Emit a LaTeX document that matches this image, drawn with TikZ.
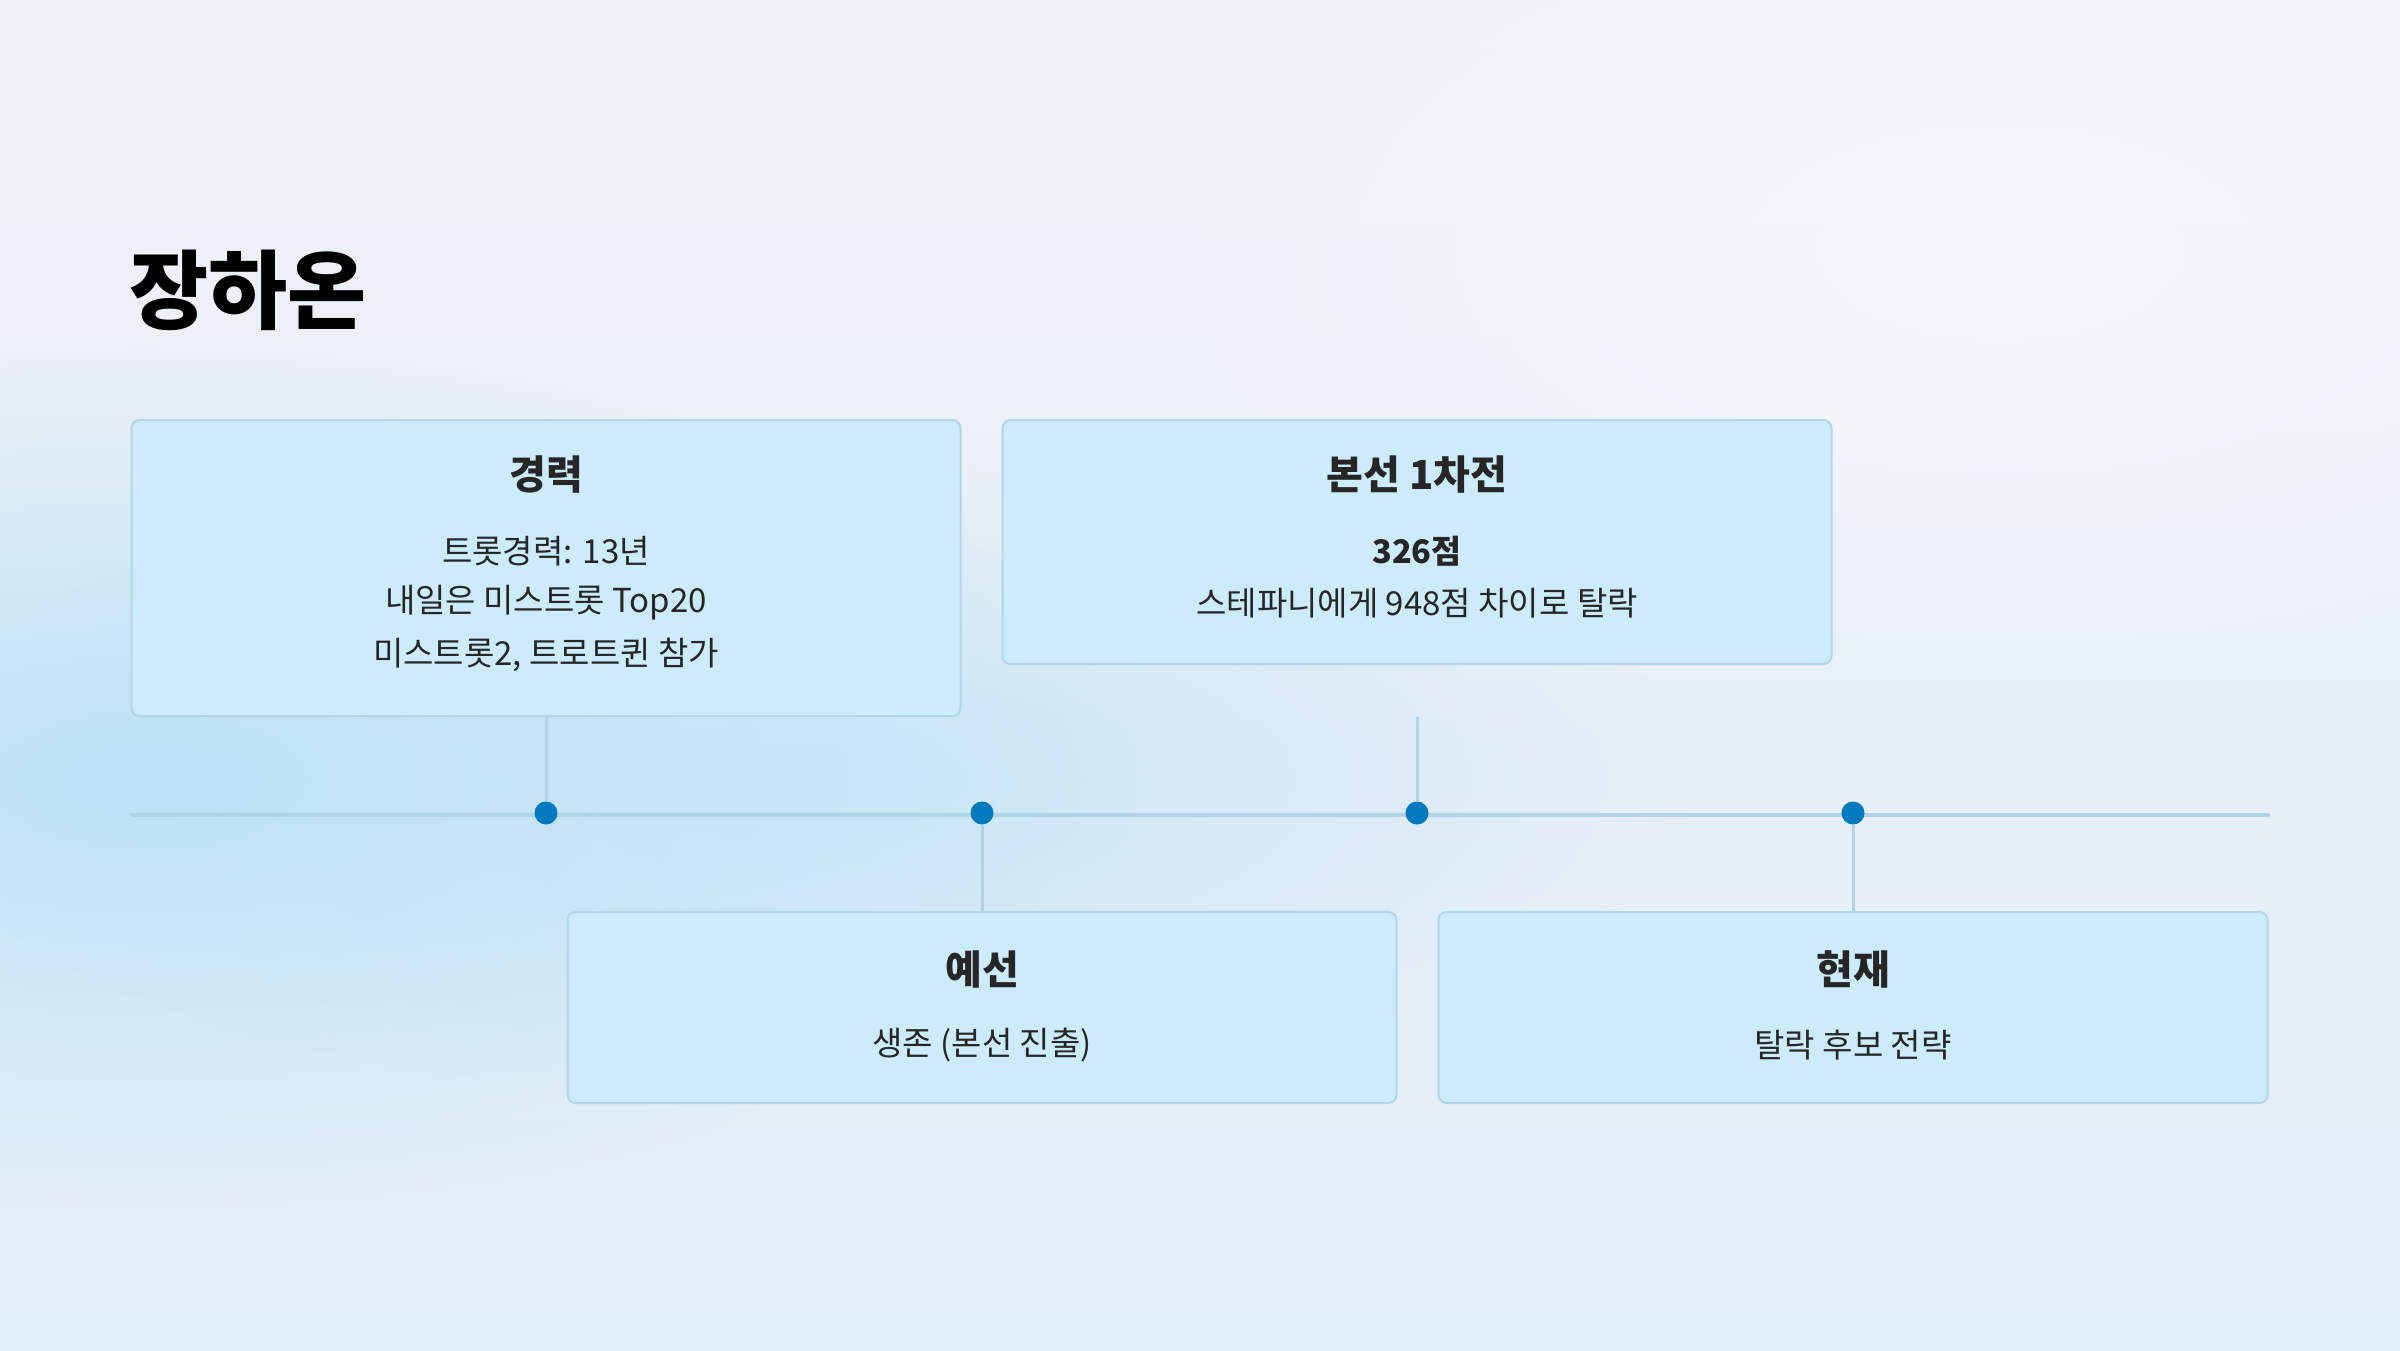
\documentclass[tikz,border=0pt]{standalone}
\usepackage{fontspec}
\setmainfont{Noto Sans CJK KR}
\usetikzlibrary{fadings}
\tikzfading[name=softblob, inner color=transparent!0, outer color=transparent!100]
\definecolor{boxfill}{HTML}{CCECFD}
\definecolor{boxline}{HTML}{B2D6E8}
\definecolor{tlcol}{HTML}{B0D3E6}
\definecolor{dotcol}{HTML}{0079BF}
\definecolor{txt}{HTML}{262626}
\definecolor{bgtop}{HTML}{F0F1F6}
\definecolor{bgbot}{HTML}{E2EEF9}
\definecolor{blob}{HTML}{BCE2F5}
\begin{document}
\begin{tikzpicture}[x=1pt,y=-1pt,
  card/.style={draw=boxline, line width=2pt, fill=boxfill, rounded corners=8pt,
    minimum width=829pt, anchor=north, inner sep=0pt},
  ttl/.style={text=txt, font=\fontsize{40}{48}\selectfont\bfseries, inner sep=0pt},
  bodytxt/.style={text=txt, font=\fontsize{33}{38}\selectfont, inner sep=0pt},
  boldtxt/.style={text=txt, font=\fontsize{32.5}{38}\selectfont\bfseries, inner sep=0pt},
  tline/.style={draw=tlcol, line width=4pt},
  conn/.style={draw=tlcol, line width=3pt},
  tdot/.style={circle, fill=dotcol, minimum size=23pt, inner sep=0pt}]
\useasboundingbox (0,0) rectangle (2400,1350);
\begin{scope}
\clip (0,0) rectangle (2400,1350);
\shade[top color=bgtop, bottom color=bgbot] (0,0) rectangle (2400,1350);
\fill[white, opacity=0.5, path fading=softblob] (2000,250) ellipse [x radius=900pt, y radius=450pt];
\fill[blob, path fading=softblob] (150,780) ellipse [x radius=1000pt, y radius=430pt];
\fill[blob, opacity=0.7, path fading=softblob] (800,780) ellipse [x radius=900pt, y radius=320pt];
\end{scope}

% title
\node[anchor=west, inner sep=0pt, text=black, font=\fontsize{86}{100}\selectfont\bfseries] (title) at (129,290) {장하온};

% timeline
\coordinate (tlL) at (132,815);
\coordinate (tlR) at (2268,815);
\draw[tline, line cap=round] (tlL) -- (tlR);

% cards
\node[card, minimum height=296pt] (c1) at (546,419) {};
\node[card, minimum height=244pt] (c2) at (1417,419) {};
\node[card, minimum height=191pt] (c3) at (982,911) {};
\node[card, minimum height=191pt] (c4) at (1853,911) {};

% dots
\node[tdot] (d1) at (546,813) {};
\node[tdot] (d2) at (982,813) {};
\node[tdot] (d3) at (1417,813) {};
\node[tdot] (d4) at (1853,813) {};

% connectors
\coordinate (c2end) at (1417,717);
\draw[conn] (c1.south) -- (d1);
\draw[conn] (c2end) -- (d3);
\draw[conn] (d2) -- (c3.north);
\draw[conn] (d4) -- (c4.north);

% card texts
\node[ttl] (t1) at (546,475) {경력};
\node[bodytxt] (b1a) at (546,551) {트롯경력: 13년};
\node[bodytxt] (b1b) at (546,603) {내일은 미스트롯 Top20};
\node[bodytxt] (b1c) at (546,655) {미스트롯2, 트로트퀸 참가};

\node[ttl] (t2) at (1417,475) {본선 1차전};
\node[boldtxt] (b2a) at (1417,551) {326점};
\node[bodytxt] (b2b) at (1417,603) {스테파니에게 948점 차이로 탈락};

\node[ttl] (t3) at (982,969) {예선};
\node[bodytxt] (b3) at (982,1045) {생존 (본선 진출)};

\node[ttl] (t4) at (1853,969) {현재};
\node[bodytxt] (b4) at (1853,1045) {탈락 후보 전략};
\end{tikzpicture}
\end{document}
